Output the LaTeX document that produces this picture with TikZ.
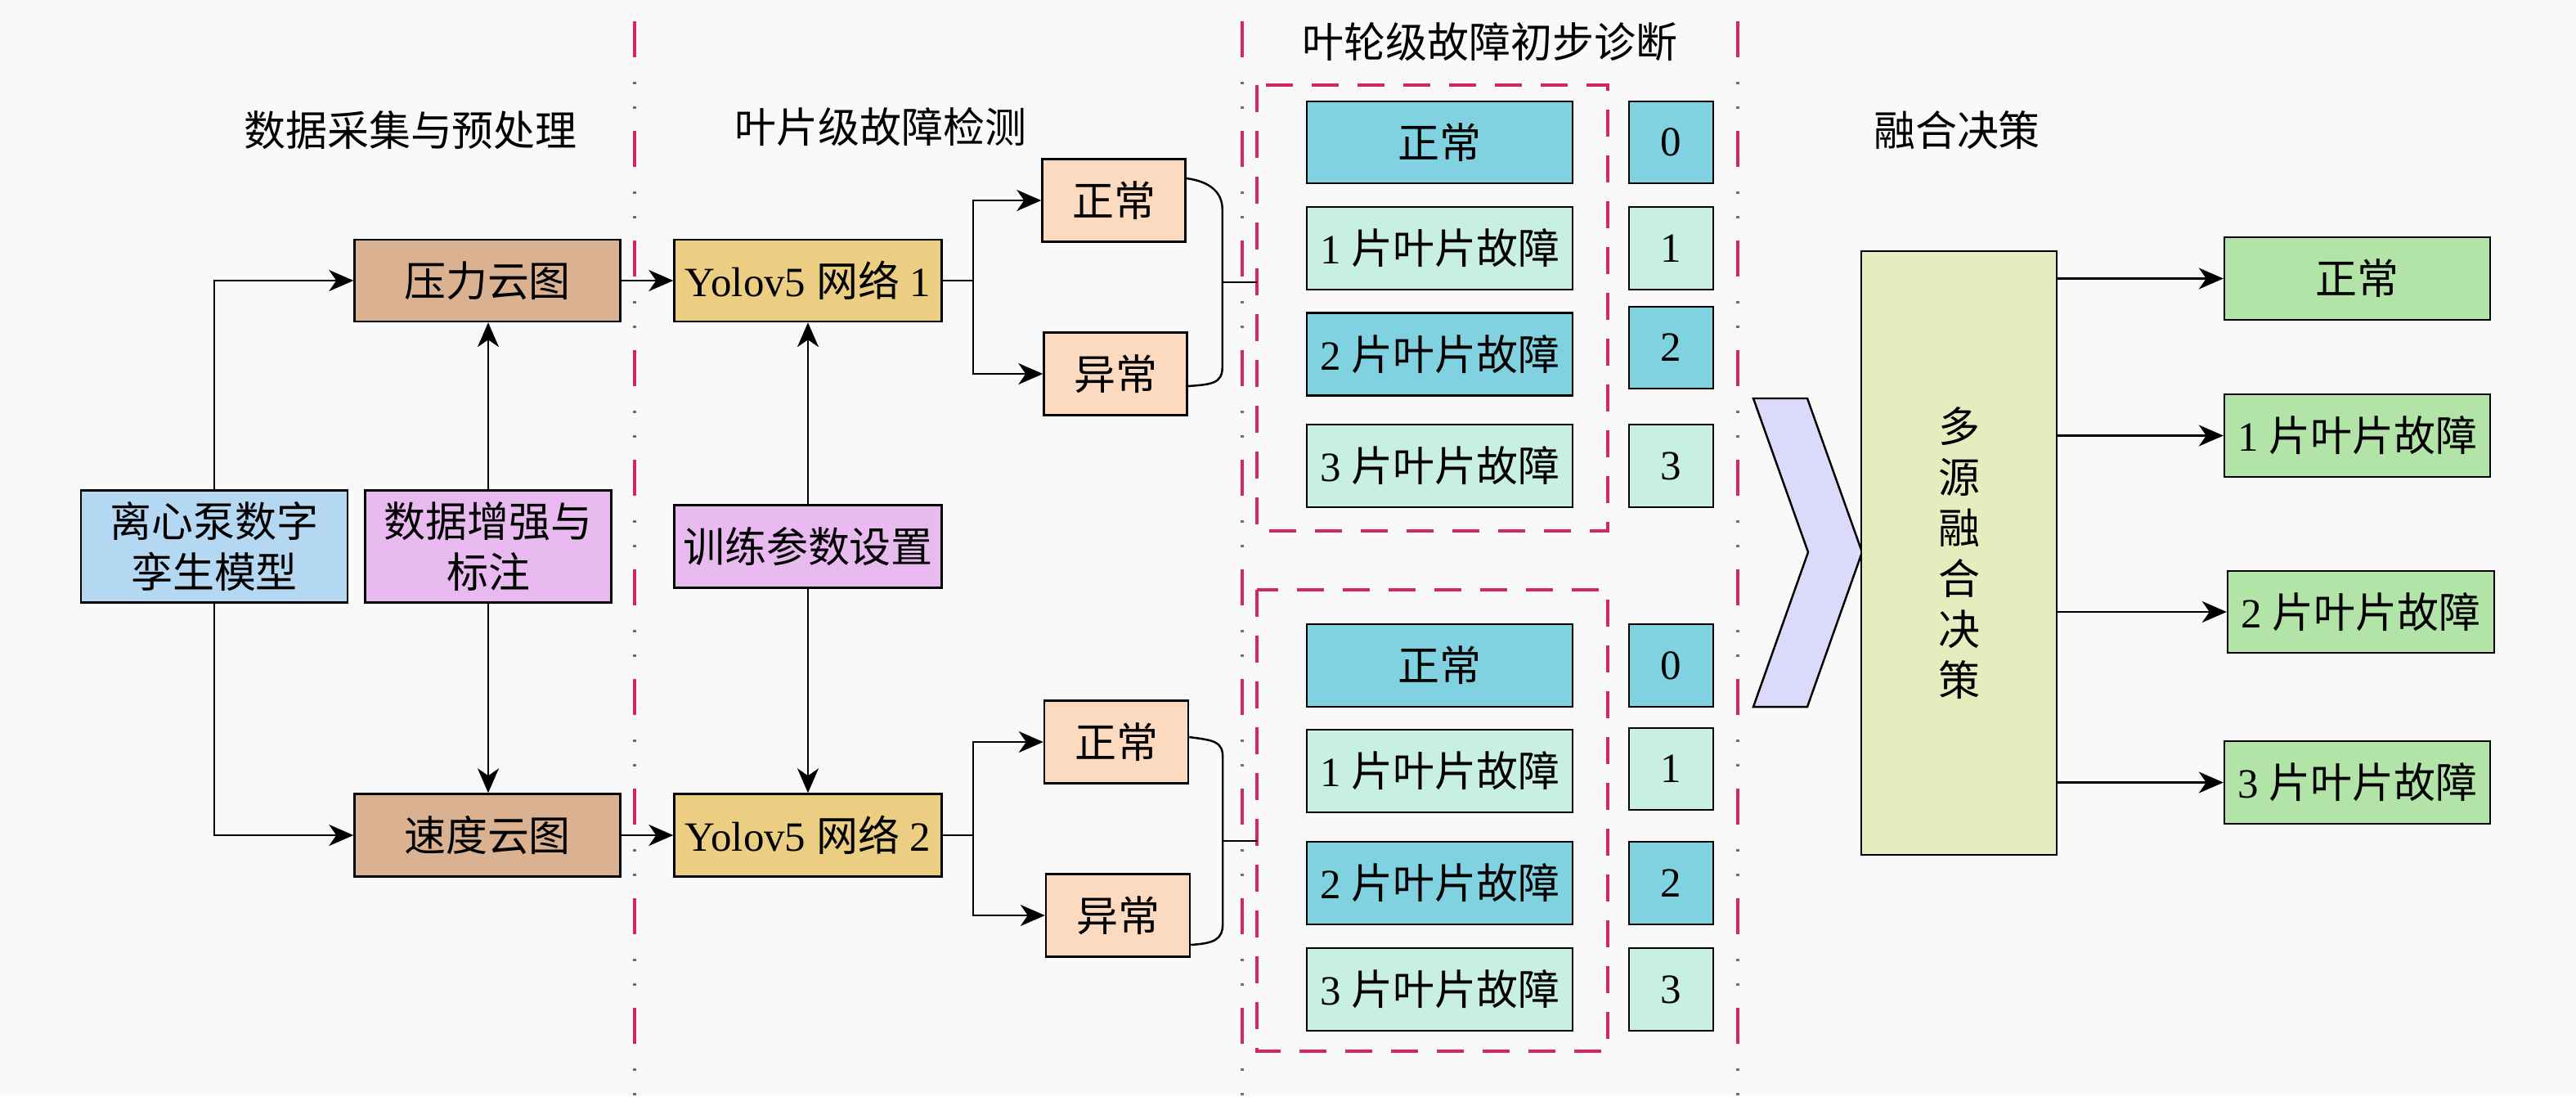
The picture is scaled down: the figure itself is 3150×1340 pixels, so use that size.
\documentclass[tikz,border=0pt]{standalone}
\usepackage{fontspec}
\setmainfont{Liberation Serif}
\newfontfamily\cj{Noto Sans CJK SC}
\usetikzlibrary{arrows.meta,calc}
\definecolor{bgc}{RGB}{249,249,249}
\definecolor{tanc}{RGB}{218,178,145}
\definecolor{bluec}{RGB}{180,216,242}
\definecolor{pinkc}{RGB}{232,186,240}
\definecolor{goldc}{RGB}{236,206,130}
\definecolor{peachc}{RGB}{252,218,192}
\definecolor{tealc}{RGB}{128,210,224}
\definecolor{mintc}{RGB}{200,240,226}
\definecolor{lavc}{RGB}{220,218,250}
\definecolor{paleyc}{RGB}{230,236,190}
\definecolor{greenc}{RGB}{178,228,168}
\definecolor{redd}{RGB}{210,40,95}
\definecolor{grayd}{RGB}{110,110,110}
\newcommand\fs{\fontsize{14.5pt}{17.5pt}\selectfont}
\begin{document}
\begin{tikzpicture}[x=0.1mm,y=-0.1mm,
  box/.style={draw=black,line width=0.7pt,inner sep=0pt,font=\fs,align=center},
  cbox/.style={box,font=\fs\cj},
  sz/.style 2 args={minimum width=#1*0.1mm,minimum height=#2*0.1mm},
  arr/.style={draw=black,line width=0.7pt,-{Stealth[length=3mm,width=2.6mm,inset=0.9mm]}},
  conn/.style={draw=black,line width=0.7pt},
  title/.style={font=\fs\cj,inner sep=0pt},
  sepred/.style={draw=redd,line width=0.9pt,dash pattern=on 4.4mm off 9mm},
  sepgray/.style={draw=grayd,line width=0.9pt,dash pattern=on 0.3mm off 2.7mm on 0.3mm off 10.1mm,dash phase=6mm},
  dbox/.style={draw=redd,line width=0.9pt,dash pattern=on 3.3mm off 2.3mm},
  holder/.style={inner sep=0pt,outer sep=0pt},
]
\fill[bgc] (0,0) rectangle (3150,1340);
\useasboundingbox (0,0) rectangle (3150,1340);

% separators
\foreach \sx in {776,1519,2125}{
  \draw[sepred] (\sx,26) -- (\sx,1340);
  \draw[sepgray] (\sx,26) -- (\sx,1340);
}

% titles
\node[title] (t1) at (502,159) {数据采集与预处理};
\node[title] (t2) at (1077,155) {叶片级故障检测};
\node[title] (t3) at (1822,51) {叶轮级故障初步诊断};
\node[title] (t4) at (2393,159) {融合决策};

% section 1
\node[cbox,sz={325}{100},fill=tanc] (yl) at (596,343) {压力云图};
\node[cbox,sz={325}{101},fill=tanc] (sd) at (596,1021) {速度云图};
\node[cbox,sz={326}{137},fill=bluec] (lxb) at (262,668) {离心泵数字\\孪生模型};
\node[cbox,sz={301}{137},fill=pinkc] (sj) at (597,668) {数据增强与\\标注};

% section 2
\node[box,sz={327}{100},fill=goldc] (y1) at (988,343) {Yolov5 {\cj 网络} 1};
\node[box,sz={327}{101},fill=goldc] (y2) at (988,1021) {Yolov5 {\cj 网络} 2};
\node[cbox,sz={327}{101},fill=pinkc] (xl) at (988,668) {训练参数设置};
\node[cbox,sz={175}{101},fill=peachc] (zc1) at (1362,245) {正常};
\node[cbox,sz={175}{101},fill=peachc] (yc1) at (1364,457) {异常};
\node[cbox,sz={176}{101},fill=peachc] (zc2) at (1365,907) {正常};
\node[cbox,sz={176}{101},fill=peachc] (yc2) at (1367,1119) {异常};

% section 3 dashed groups
\node[holder,sz={429}{545}] (dbA) at (1751.5,376.5) {};
\node[holder,sz={429}{564}] (dbB) at (1751.5,1003) {};
\draw[dbox] (dbA.north west) rectangle (dbA.south east);
\draw[dbox] (dbB.north west) rectangle (dbB.south east);

\node[cbox,sz={325}{100},fill=tealc] (a0) at (1760.5,174) {正常};
\node[box,sz={325}{101},fill=mintc] (a1) at (1760.5,303.5) {1 {\cj 片叶片故障}};
\node[box,sz={325}{101},fill=tealc] (a2) at (1760.5,433) {2 {\cj 片叶片故障}};
\node[box,sz={325}{101},fill=mintc] (a3) at (1760.5,569.5) {3 {\cj 片叶片故障}};
\node[box,sz={103}{100},fill=tealc] (na0) at (2043.5,174) {0};
\node[box,sz={103}{101},fill=mintc] (na1) at (2043.5,303.5) {1};
\node[box,sz={103}{100},fill=tealc] (na2) at (2043.5,425) {2};
\node[box,sz={103}{101},fill=mintc] (na3) at (2043.5,569.5) {3};

\node[cbox,sz={325}{101},fill=tealc] (b0) at (1760.5,813.5) {正常};
\node[box,sz={325}{101},fill=mintc] (b1) at (1760.5,942.5) {1 {\cj 片叶片故障}};
\node[box,sz={325}{101},fill=tealc] (b2) at (1760.5,1079.5) {2 {\cj 片叶片故障}};
\node[box,sz={325}{101},fill=mintc] (b3) at (1760.5,1209.5) {3 {\cj 片叶片故障}};
\node[box,sz={103}{101},fill=tealc] (nb0) at (2043.5,813.5) {0};
\node[box,sz={103}{100},fill=mintc] (nb1) at (2043.5,940) {1};
\node[box,sz={103}{101},fill=tealc] (nb2) at (2043.5,1079.5) {2};
\node[box,sz={103}{101},fill=mintc] (nb3) at (2043.5,1209.5) {3};

% chevron
\draw[fill=lavc,line width=0.7pt,line join=miter] (2144,487) -- (2210,487) -- (2277,675) -- (2210,864) -- (2144,864) -- (2211,675) -- cycle;

% section 4
\node[box,sz={239}{738},fill=paleyc,font=\cj\fontsize{14.5pt}{17.6pt}\selectfont] (big) at (2395.5,676) {多\\源\\融\\合\\决\\策};
\node[cbox,sz={325}{101},fill=greenc] (o0) at (2882.5,340.5) {正常};
\node[box,sz={325}{101},fill=greenc] (o1) at (2882.5,532.5) {1 {\cj 片叶片故障}};
\node[box,sz={326}{100},fill=greenc] (o2) at (2887,748) {2 {\cj 片叶片故障}};
\node[box,sz={325}{101},fill=greenc] (o3) at (2882.5,956.5) {3 {\cj 片叶片故障}};

% connectors section 1
\draw[arr] (lxb.north) |- (yl.west);
\draw[arr] (lxb.south) |- (sd.west);
\draw[arr] (sj.north) -- (sj.north |- yl.south);
\draw[arr] (sj.south) -- (sj.south |- sd.north);
\draw[arr] (yl.east) -- (y1.west);
\draw[arr] (sd.east) -- (y2.west);
\draw[arr] (xl.north) -- (y1.south);
\draw[arr] (xl.south) -- (y2.north);

% branches
\draw[arr] (y1.east) -- ++(37,0) |- (zc1.west);
\draw[arr] (y1.east) -- ++(37,0) |- (yc1.west);
\draw[arr] (y2.east) -- ++(37,0) |- (zc2.west);
\draw[arr] (y2.east) -- ++(37,0) |- (yc2.west);

% brackets
\draw[conn] ($(zc1.east)+(0,-27)$) .. controls +(30,4) and +(0,-20) .. ($(zc1.east)+(44,11)$) -- ($(yc1.east)+(42,-8)$) .. controls +(0,20) and +(28,-2) .. ($(yc1.east)+(0,15)$);
\coordinate (jA) at (1494,345);
\draw[conn] (jA) -- (jA -| dbA.west);
\draw[conn] ($(zc2.east)+(0,-6)$) .. controls +(30,4) and +(0,-20) .. ($(zc2.east)+(41,19)$) -- ($(yc2.east)+(39,10)$) .. controls +(0,20) and +(28,-2) .. ($(yc2.east)+(0,36)$);
\coordinate (jB) at (1494,1028);
\draw[conn] (jB) -- (jB -| dbB.west);

% outputs
\draw[arr] (big.east |- o0.west) -- (o0.west);
\draw[arr] (big.east |- o1.west) -- (o1.west);
\draw[arr] (big.east |- o2.west) -- (o2.west);
\draw[arr] (big.east |- o3.west) -- (o3.west);
\end{tikzpicture}
\end{document}
